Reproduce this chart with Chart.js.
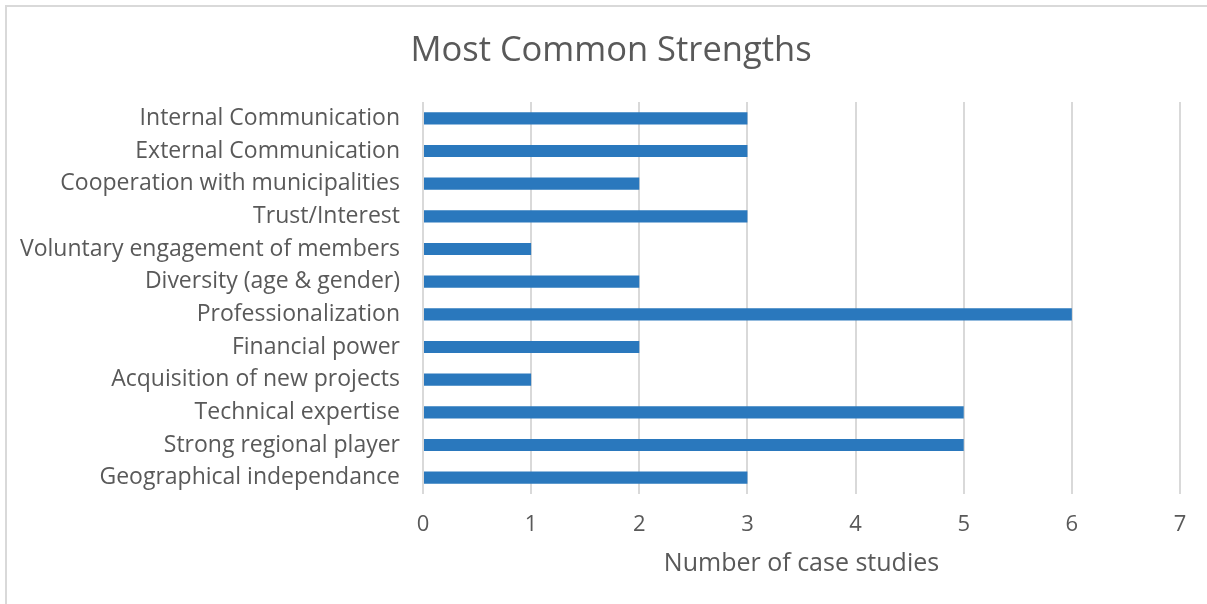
<!DOCTYPE html>
<html lang="en">
<head>
    <meta charset="UTF-8">
    <title>Most Common Strengths</title>
    <script src="https://cdn.jsdelivr.net/npm/chart.js@4"></script>
    <style>
        * { margin: 0; padding: 0; }
        body { width: 1207px; height: 604px; overflow: hidden; background: #fff; position: relative; }
        #frame {
            position: absolute; left: 5px; top: 5px; width: 1300px; height: 700px;
            border-left: 2px solid #d9d9d9; border-top: 2px solid #d9d9d9;
        }
        #wrap { position: absolute; left: 0; top: 0; width: 1207px; height: 604px; }
    </style>
</head>
<body>
<div id="frame"></div>
<div id="wrap"><canvas id="myChart" width="1207" height="604"></canvas></div>
<script>
    var categories = [
        "Internal Communication",
        "External Communication",
        "Cooperation with municipalities",
        "Trust/Interest",
        "Voluntary engagement of members",
        "Diversity (age & gender)",
        "Professionalization",
        "Financial power",
        "Acquisition of new projects",
        "Technical expertise",
        "Strong regional player",
        "Geographical independance"
    ];
    var caseStudies = [3, 3, 2, 3, 1, 2, 6, 2, 1, 5, 5, 3];
    var xTicks = [0, 1, 2, 3, 4, 5, 6, 7];

    var fontName = "'Open Sans', sans-serif";
    var textColor = "#595959";

    // shift the title box so it is centred like the original (not over the whole canvas)
    var titleShift = {
        id: 'titleShift',
        afterLayout: function (chart) {
            if (chart.titleBlock) chart.titleBlock.left += 42;
        }
    };

    var ctx = document.getElementById('myChart').getContext("2d");
    var myChart = new Chart(ctx, {
        type: 'bar',
        data: {
            labels: categories,
            datasets: [{
                label: "Number of case studies",
                backgroundColor: "#2a78bd",
                borderWidth: 0,
                categoryPercentage: 1,
                barPercentage: 0.37,
                data: caseStudies
            }]
        },
        options: {
            indexAxis: 'y',
            responsive: false,
            animation: false,
            layout: { padding: { left: 0, right: 27, top: 0, bottom: 0 } },
            plugins: {
                legend: { display: false },
                tooltip: { enabled: false },
                title: {
                    display: true,
                    text: "Most Common Strengths",
                    color: textColor,
                    font: { family: fontName, size: 34.5, weight: 'normal' },
                    padding: { top: 30, bottom: 30.6 }
                }
            },
            scales: {
                x: {
                    min: xTicks[0],
                    max: xTicks[xTicks.length - 1],
                    afterBuildTicks: function (scale) {
                        scale.ticks = xTicks.map(function (v) { return { value: v }; });
                    },
                    border: { display: false },
                    grid: { color: "#d9d9d9", lineWidth: 2, drawTicks: false },
                    ticks: {
                        color: textColor,
                        padding: 18,
                        font: { family: fontName, size: 22 }
                    },
                    title: {
                        display: true,
                        text: "Number of case studies",
                        color: textColor,
                        font: { family: fontName, size: 25 },
                        padding: { top: 10, bottom: 25 }
                    },
                    afterFit: function (scale) { scale.height = 110; }
                },
                y: {
                    border: { display: false },
                    grid: { display: false, drawTicks: false },
                    ticks: {
                        color: textColor,
                        padding: 23,
                        autoSkip: false,
                        font: { family: fontName, size: 23 }
                    },
                    afterFit: function (scale) { scale.width = 423; }
                }
            }
        },
        plugins: [titleShift]
    });
</script>
</body>
</html>
